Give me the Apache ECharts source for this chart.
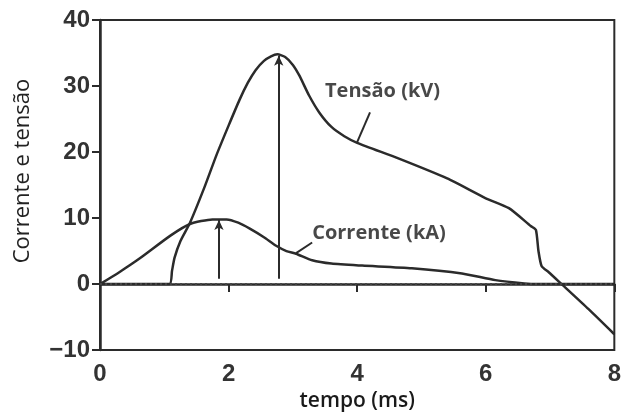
<!DOCTYPE html>
<html>
<head>
<meta charset="utf-8">
<script src="https://cdn.jsdelivr.net/npm/echarts@6/dist/echarts.min.js"></script>
<style>
  html, body { margin: 0; padding: 0; background: #fff; }
  #chart { width: 624px; height: 417px; }
</style>
</head>
<body>
<div id="chart"></div>
<script>
// tempo (ms) / valor
const tensaoX = [0, 1.08, 1.12, 1.16, 1.25, 1.4, 1.63, 1.81, 2.0, 2.17, 2.3, 2.42, 2.55, 2.66, 2.76, 2.88, 3.0, 3.1, 3.25, 3.41, 3.6, 3.8, 4.0, 4.65, 5.4, 6.0, 6.36, 6.7, 6.78, 6.82, 6.87, 6.98, 7.18, 7.6, 8]
const tensaoY = [0, 0, 2, 4, 6.5, 9.3, 14.8, 19.5, 24, 27.9, 30.5, 32.4, 33.8, 34.5, 34.8, 34.4, 33.2, 31.6, 28.6, 26, 23.8, 22.4, 21.4, 19, 16, 13, 11.5, 8.8, 8.2, 5, 2.7, 1.8, 0, -3.8, -7.6]
const correnteX = [0, 0.3, 0.62, 1.09, 1.4, 1.75, 1.97, 2.15, 2.33, 2.55, 2.74, 2.9, 3.05, 3.3, 3.6, 4.08, 4.85, 5.63, 6.15, 6.6, 6.8, 7.4, 8]
const correnteY = [0, 1.8, 3.9, 7.3, 9.1, 9.8, 9.8, 9.3, 8.4, 7.1, 5.8, 5.0, 4.6, 3.6, 3.1, 2.8, 2.4, 1.6, 0.6, 0.1, 0, 0, 0]
const xTicks = [0, 2, 4, 6, 8]
const yTicks = [-10, 0, 10, 20, 30, 40]

// setas e anotações (coordenadas de dados)
const peakArrows = [[[1.85, 0.8], [1.85, 9.7]], [[2.78, 0.8], [2.78, 34.6]]]
const pointers = [[[4.2, 26], [4.0, 21.5]], [[3.3, 6.3], [3.05, 4.7]]]
const notes = ['Tensão (kV)', 'Corrente (kA)']
const notePos = [[3.5, 29.2], [3.3, 7.7]]

const ink = '#2b2b2b'
const zip = (xs, ys) => xs.map((x, i) => [x, ys[i]])

const chart = echarts.init(document.getElementById('chart'))
const option = {
  animation: false,
  grid: {
    left: 100,
    right: 8,
    top: 20,
    bottom: 63,
    show: true,
    borderColor: ink,
    borderWidth: 2
  },
  xAxis: {
    type: 'value',
    min: xTicks[0],
    max: xTicks[xTicks.length - 1],
    interval: 2,
    name: 'tempo (ms)',
    nameLocation: 'middle',
    nameGap: 35,
    nameTextStyle: { fontFamily: 'Open Sans', fontSize: 21, fontWeight: 600, color: '#1a1a1a' },
    axisLine: { lineStyle: { color: ink, width: 2.5 } },
    axisTick: { length: 8, lineStyle: { color: ink, width: 2 } },
    axisLabel: { fontFamily: 'Liberation Sans', fontSize: 24, fontWeight: 'bold', color: '#333', margin: 12 },
    splitLine: { show: false }
  },
  yAxis: {
    type: 'value',
    min: yTicks[0],
    max: yTicks[yTicks.length - 1],
    interval: 10,
    name: 'Corrente e tensão',
    nameLocation: 'middle',
    nameGap: 66,
    nameTextStyle: { fontFamily: 'Open Sans', fontSize: 22, color: '#222', padding: [0, 0, 0, 28] },
    axisLine: { lineStyle: { color: ink, width: 2.5 } },
    axisTick: { length: 8, lineStyle: { color: ink, width: 2 } },
    axisLabel: {
      fontFamily: 'Liberation Sans', fontSize: 24, fontWeight: 'bold', color: '#333', margin: 10,
      formatter: v => (v < 0 ? '\u2212' + Math.abs(v) : String(v))
    },
    splitLine: { show: false }
  },
  series: [
    {
      name: 'Tensão (kV)',
      type: 'line',
      data: zip(tensaoX, tensaoY),
      showSymbol: false,
      smooth: 0.2,
      lineStyle: { color: ink, width: 2.5 },
      z: 3,
      markLine: {
        silent: true,
        symbol: ['none', 'none'],
        label: { show: false },
        lineStyle: { color: '#444', width: 2, type: [2, 3] },
        data: [{ yAxis: 0 }]
      }
    },
    {
      name: 'Corrente (kA)',
      type: 'line',
      data: zip(correnteX, correnteY),
      showSymbol: false,
      smooth: 0.2,
      lineStyle: { color: ink, width: 2.5 },
      z: 3,
      markLine: {
        silent: true,
        symbol: ['none', 'arrow'],
        symbolSize: [7, 10],
        label: { show: false },
        lineStyle: { color: ink, width: 2, type: 'solid' },
        data: peakArrows.map(a => [{ coord: a[0] }, { coord: a[1] }])
          .concat(pointers.map(a => [{ coord: a[0], symbol: 'none' }, { coord: a[1], symbol: 'none' }]))
      }
    },
    {
      name: 'notas',
      type: 'scatter',
      symbolSize: 0,
      data: notePos.map((p, i) => [p[0], p[1], notes[i]]),
      label: {
        show: true,
        position: 'right',
        distance: 0,
        formatter: p => p.value[2],
        fontFamily: 'Open Sans',
        fontSize: 20,
        fontWeight: 700,
        color: '#1a1a1a'
      },
      silent: true
    }
  ]
}
chart.setOption(option)
</script>
</body>
</html>
